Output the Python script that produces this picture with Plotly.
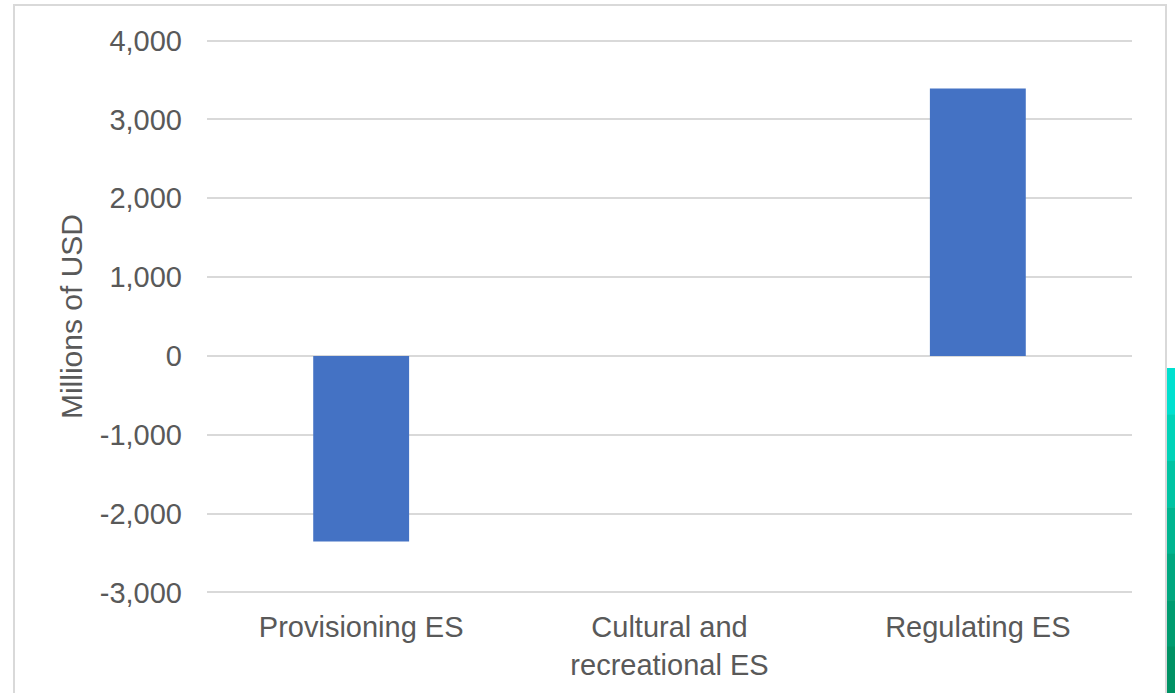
import plotly.graph_objects as go

# Net change in ecosystem service values, by service type
categories = ["Provisioning ES", "Cultural and<br>recreational ES", "Regulating ES"]
values_musd = [-2355, 0, 3393]

y_ticks = [-3000, -2000, -1000, 0, 1000, 2000, 3000, 4000]
y_tick_labels = ["-3,000", "-2,000", "-1,000", "0", "1,000", "2,000", "3,000", "4,000"]

FONT = "Liberation Sans, Arial, sans-serif"
TEXT = "#595959"
GRID = "#d9d9d9"

fig = go.Figure(
    go.Bar(
        x=categories,
        y=values_musd,
        marker=dict(color="#4472C4", line=dict(width=0)),
        width=0.311,
    )
)

# Plot-area geometry in pixels, used to place the outer frame
W, H = 1175, 693
L, R, T, B = 207, 43, 39, 99
pw, ph = W - L - R, H - T - B


def px_x(x):
    return (x - L) / pw


def px_y(y):
    return (H - B - y) / ph


shapes = [
    dict(
        type="rect", xref="paper", yref="paper",
        x0=px_x(14), x1=px_x(1166), y0=px_y(760), y1=px_y(5),
        line=dict(color=GRID, width=2), fillcolor="rgba(0,0,0,0)", layer="below",
    )
]

# Narrow green strip along the right edge
strip_colors = ["#00e0cf", "#00d3b8", "#00c4a3", "#00b590", "#00a880", "#009c70", "#009264"]
y_top, y_bot = 368, 693
step = (y_bot - y_top) / len(strip_colors)
for i, c in enumerate(strip_colors):
    shapes.append(dict(
        type="rect", xref="paper", yref="paper",
        x0=px_x(1167), x1=px_x(1176),
        y0=px_y(y_top + (i + 1) * step + 0.5), y1=px_y(y_top + i * step),
        line=dict(width=0), fillcolor=c, layer="above",
    ))

fig.update_layout(
    width=W, height=H,
    margin=dict(l=L, r=R, t=T, b=B, autoexpand=False),
    paper_bgcolor="white",
    plot_bgcolor="white",
    showlegend=False,
    font=dict(family=FONT, color=TEXT, size=29),
    shapes=shapes,
    xaxis=dict(
        showgrid=False, showline=False, zeroline=False, ticks="",
        tickfont=dict(size=29, color=TEXT, family=FONT),
        ticklabelstandoff=13,
    ),
    yaxis=dict(
        range=[-3020, 4020],
        tickmode="array", tickvals=y_ticks, ticktext=y_tick_labels,
        showgrid=True, gridcolor=GRID, gridwidth=1.6,
        zeroline=True, zerolinecolor=GRID, zerolinewidth=1.6,
        showline=False, ticks="",
        tickfont=dict(size=29, color=TEXT, family=FONT),
        ticklabelstandoff=24,
        title=dict(text="Millions of USD", font=dict(size=30, color=TEXT, family=FONT), standoff=8),
        automargin=False,
    ),
    bargap=0.689,
)

fig.write_html("out.html")
